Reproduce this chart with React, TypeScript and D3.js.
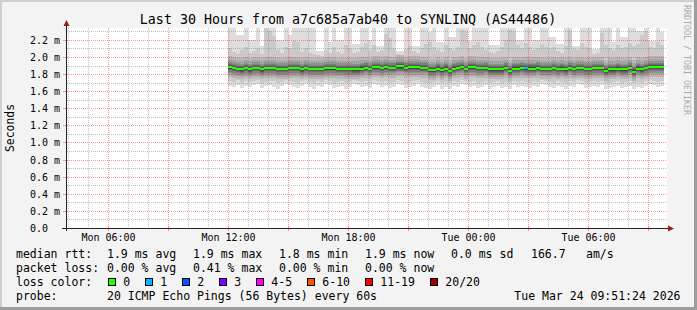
import React from "react";
import * as d3 from "d3";

// ---------------- data (values in ms) ----------------
const medianRtt = [
  1.88, 1.87, 1.86, 1.855, 1.87, 1.855, 1.87, 1.87, 1.855, 1.87,
  1.87, 1.87, 1.857, 1.857, 1.857, 1.87, 1.87, 1.87, 1.855, 1.87,
  1.857, 1.857, 1.857, 1.857, 1.868, 1.868, 1.868, 1.86, 1.86, 1.857,
  1.857, 1.855, 1.855, 1.865, 1.875, 1.86, 1.88, 1.88, 1.87, 1.88,
  1.875, 1.875, 1.89, 1.89, 1.875, 1.88, 1.88, 1.88, 1.875, 1.875,
  1.845, 1.845, 1.865, 1.845, 1.865, 1.835, 1.865, 1.875, 1.885, 1.86,
  1.88, 1.88, 1.87, 1.87, 1.875, 1.855, 1.855, 1.855, 1.855, 1.875,
  1.84, 1.865, 1.865, 1.875, 1.867, 1.865, 1.865, 1.875, 1.86, 1.86,
  1.86, 1.87, 1.858, 1.865, 1.855, 1.875, 1.857, 1.87, 1.87, 1.857,
  1.857, 1.87, 1.87, 1.87, 1.84, 1.855, 1.855, 1.865, 1.855, 1.855,
  1.875, 1.83, 1.865, 1.855, 1.87, 1.885, 1.885, 1.885, 1.885,
];

const pingMax = [
  2.42, 2.45, 2.26, 2.26, 2.44, 2.2, 2.2, 2.41, 2.13, 2.46,
  2.43, 2.42, 2.2, 2.2, 2.45, 2.26, 2.42, 2.44, 2.41, 2.43,
  2.42, 2.45, 2.07, 2.07, 2.42, 2.17, 2.44, 2.2, 2.2, 2.43,
  2.41, 2.15, 2.15, 2.44, 2.42, 2.2, 2.45, 2.13, 2.13, 2.43,
  2.42, 2.41, 2.07, 2.07, 2.44, 2.42, 2.13, 2.13, 2.45, 2.43,
  2.29, 2.42, 2.17, 2.17, 2.44, 2.23, 2.23, 2.41, 2.46, 2.43,
  2.19, 2.42, 2.45, 2.43, 2.41, 2.14, 2.14, 2.14, 2.44, 2.42,
  2.45, 2.43, 2.2, 2.2, 2.42, 2.44, 2.2, 2.2, 2.43, 2.41,
  2.23, 2.23, 2.15, 2.15, 2.42, 2.45, 2.13, 2.13, 2.44, 2.42,
  2.41, 2.09, 2.09, 2.45, 2.43, 2.42, 2.17, 2.44, 2.23, 2.23,
  2.42, 2.45, 2.3, 2.3, 2.43, 2.19, 2.19, 2.44, 2.29,
];

const ping19 = [
  2.1, 2.06, 2.04, 2.08, 2.12, 2.05, 2.07, 2.1, 2.04, 2.34,
  2.3, 2.24, 2.08, 2.05, 2.12, 2.1, 2.19, 2.18, 2.06, 2.1,
  2.05, 2.03, 2.02, 2.01, 2.08, 2.05, 2.12, 2.06, 2.04, 2.14,
  2.1, 2.05, 2.06, 2.12, 2.16, 2.08, 2.14, 2.06, 2.08, 2.27,
  2.22, 2.1, 2.03, 2.02, 2.09, 2.13, 2.07, 2.05, 2.11, 2.15,
  2.18, 2.12, 2.08, 2.06, 2.14, 2.1, 2.08, 2.12, 2.32, 2.3,
  2.1, 2.14, 2.18, 2.12, 2.08, 2.06, 2.05, 2.07, 2.12, 2.2,
  2.32, 2.3, 2.14, 2.1, 2.16, 2.12, 2.08, 2.1, 2.15, 2.12,
  2.09, 2.12, 2.07, 2.05, 2.13, 2.31, 2.09, 2.08, 2.16, 2.12,
  2.1, 2.04, 2.05, 2.28, 2.14, 2.1, 2.08, 2.14, 2.1, 2.12,
  2.16, 2.13, 2.15, 2.26, 2.3, 2.12, 2.1, 2.18, 2.14,
];

const ping2 = [
  1.72, 1.71, 1.73, 1.7, 1.72, 1.71, 1.72, 1.73, 1.7, 1.71,
  1.72, 1.72, 1.7, 1.71, 1.73, 1.72, 1.71, 1.7, 1.72, 1.73,
  1.71, 1.7, 1.72, 1.71, 1.73, 1.72, 1.7, 1.71, 1.72, 1.7,
  1.71, 1.73, 1.72, 1.71, 1.72, 1.7, 1.73, 1.72, 1.71, 1.72,
  1.7, 1.71, 1.73, 1.72, 1.7, 1.71, 1.72, 1.73, 1.71, 1.7,
  1.69, 1.71, 1.72, 1.7, 1.71, 1.69, 1.72, 1.71, 1.73, 1.72,
  1.71, 1.72, 1.7, 1.71, 1.72, 1.7, 1.71, 1.72, 1.7, 1.71,
  1.69, 1.72, 1.71, 1.72, 1.71, 1.7, 1.72, 1.71, 1.73, 1.72,
  1.71, 1.7, 1.72, 1.71, 1.7, 1.72, 1.71, 1.73, 1.72, 1.7,
  1.71, 1.72, 1.71, 1.72, 1.69, 1.7, 1.71, 1.72, 1.7, 1.71,
  1.72, 1.69, 1.71, 1.7, 1.72, 1.73, 1.72, 1.71, 1.72,
];

const pingMin = [
  1.66, 1.65, 1.67, 1.64, 1.66, 1.65, 1.67, 1.68, 1.64, 1.66,
  1.67, 1.65, 1.63, 1.66, 1.68, 1.67, 1.65, 1.64, 1.66, 1.68,
  1.65, 1.63, 1.66, 1.65, 1.68, 1.67, 1.64, 1.65, 1.66, 1.63,
  1.65, 1.68, 1.67, 1.65, 1.66, 1.64, 1.68, 1.67, 1.65, 1.66,
  1.64, 1.65, 1.68, 1.67, 1.64, 1.65, 1.66, 1.68, 1.65, 1.64,
  1.62, 1.65, 1.67, 1.63, 1.65, 1.62, 1.66, 1.65, 1.68, 1.67,
  1.65, 1.66, 1.64, 1.65, 1.67, 1.63, 1.65, 1.66, 1.64, 1.65,
  1.62, 1.67, 1.65, 1.66, 1.65, 1.64, 1.66, 1.65, 1.68, 1.67,
  1.65, 1.64, 1.66, 1.65, 1.63, 1.66, 1.65, 1.68, 1.67, 1.64,
  1.65, 1.66, 1.65, 1.67, 1.62, 1.64, 1.65, 1.66, 1.64, 1.65,
  1.66, 1.62, 1.65, 1.64, 1.66, 1.68, 1.67, 1.65, 1.66,
];

const lostPings = [
  0, 0, 0, 0, 0, 0, 0, 0, 0, 0,
  0, 0, 0, 0, 0, 0, 0, 0, 0, 0,
  0, 0, 0, 0, 0, 0, 0, 0, 0, 0,
  0, 0, 0, 0, 0, 0, 0, 0, 0, 0,
  0, 0, 0, 0, 0, 0, 0, 0, 0, 0,
  0, 0, 0, 0, 0, 0, 0, 0, 0, 0,
  0, 0, 0, 0, 0, 0, 0, 0, 0, 0,
  0, 0, 0, 0, 1, 0, 0, 0, 0, 0,
  0, 0, 0, 0, 0, 0, 0, 0, 0, 0,
  0, 0, 0, 0, 0, 0, 0, 0, 0, 0,
  0, 0, 0, 0, 0, 0, 0, 0, 0,
];

// typical spread of pings 3..18 around the median (ms)
const innerOffsets = [
  -0.115, -0.088, -0.068, -0.052, -0.037, -0.025, -0.015, -0.006,
  0.006, 0.014, 0.024, 0.036, 0.05, 0.068, 0.095, 0.13,
];

const smokeColors = [
  "#dddddd", "#cacaca", "#b7b7b7", "#a4a4a4", "#919191",
  "#7e7e7e", "#6b6b6b", "#585858", "#454545", "#323232",
];

const lossLabels = ["0", "1", "2", "3", "4-5", "6-10", "11-19", "20/20"];
const lossColors = ["#26ff00", "#00b8ff", "#0059ff", "#7e00ff", "#ff00ff", "#ff5500", "#ff0000", "#a10000"];

const yMajorTicks = [0, 0.2, 0.4, 0.6, 0.8, 1.0, 1.2, 1.4, 1.6, 1.8, 2.0, 2.2];
const yMinorTicks = [0.1, 0.3, 0.5, 0.7, 0.9, 1.1, 1.3, 1.5, 1.7, 1.9, 2.1, 2.3];

const titleText = "Last 30 Hours from a7c685a7ab40 to SYNLINQ (AS44486)";
const rttLabel = "median rtt:";
const rttStats = ["1.9 ms avg", "1.9 ms max", "1.8 ms min", "1.9 ms now", "0.0 ms sd"];
const rttRate = ["166.7", "am/s"];
const lossLabel = "packet loss:";
const lossStats = ["0.00 % avg", "0.41 % max", "0.00 % min", "0.00 % now"];
const probeLabel = "probe:";
const probeText = "20 ICMP Echo Pings (56 Bytes) every 60s";
const stampText = "Tue Mar 24 09:51:24 2026";

function lossIndex(n: number) {
  if (n <= 3) return n;
  if (n <= 5) return 4;
  if (n <= 10) return 5;
  if (n < 20) return 6;
  return 7;
}

export default function App() {
  const W = 697, H = 310;
  const L = 67, R = 667, T = 28, B = 228;
  const t0 = new Date(2026, 2, 23, 3, 57);
  const t1 = new Date(2026, 2, 24, 9, 57);
  const dataStart = new Date(2026, 2, 23, 12, 0);
  const step = 12 * 60 * 1000;

  const x = d3.scaleTime().domain([t0, t1]).range([L, R]);
  const y = d3.scaleLinear().domain([0, 2.339]).range([B, T]);

  const cols = medianRtt.map((m, i) => {
    const ta = new Date(dataStart.getTime() + i * step);
    const tb = new Date(ta.getTime() + step);
    const pings = [pingMin[i], ping2[i], ...innerOffsets.map((o) => m + o), ping19[i], pingMax[i]];
    return { x0: Math.round(x(ta)), x1: Math.round(x(tb)), pings, m, loss: lostPings[i] };
  });

  const hours = d3.timeHour.range(d3.timeHour.ceil(t0), t1);
  const fmt = d3.timeFormat("%a %H:%M");
  const font = "'DejaVu Sans Mono', monospace";
  const legendFS = 11.5;
  const statX = [107, 193, 279, 365, 451];
  const rateX = [531, 586];

  const minorStroke = "rgba(120,120,120,0.45)";
  const majorStroke = "rgba(255,0,0,0.4)";

  // loss legend layout
  const charW = 7;
  let bx = 108.3;
  const boxes = lossLabels.map((lab, k) => {
    const b = { x: bx, lab, col: lossColors[k] };
    bx += 15 + lab.length * charW + 15;
    return b;
  });

  return (
    <svg
      width={W}
      height={H}
      style={{ position: "absolute", left: 0, top: 0, display: "block" }}
      fontFamily={font}
    >
      <rect x={0} y={0} width={W} height={H} fill="#f3f3f3" />
      <rect x={0} y={0} width={W} height={2} fill="#cfcfcf" />
      <rect x={0} y={0} width={2} height={H} fill="#cfcfcf" />
      <rect x={0} y={H - 3} width={W} height={3} fill="#9e9e9e" />
      <rect x={W - 3} y={0} width={3} height={H} fill="#9e9e9e" />

      <rect x={L} y={T} width={R - L} height={B - T} fill="#ffffff" />
      <defs>
        <clipPath id="plotclip">
          <rect x={L} y={T} width={R - L} height={B - T} />
        </clipPath>
      </defs>

      <g clipPath="url(#plotclip)" shapeRendering="crispEdges">
        {cols.map((c, i) =>
          smokeColors.map((col, k) => {
            const top = Math.round(y(c.pings[19 - k]));
            const bot = Math.round(y(c.pings[k]));
            return (
              <rect
                key={`s${i}-${k}`}
                x={c.x0}
                y={top}
                width={c.x1 - c.x0}
                height={Math.max(0, bot - top)}
                fill={col}
              />
            );
          })
        )}
      </g>

      {/* grid */}
      <g shapeRendering="crispEdges">
        {yMinorTicks.map((v) => {
          const py = Math.round(y(v)) + 0.5;
          return <line key={`ym${v}`} x1={L} x2={R} y1={py} y2={py} stroke={minorStroke} strokeDasharray="1,1" />;
        })}
        {hours.filter((h) => h.getHours() % 3 !== 0).map((h) => {
          const px = Math.round(x(h)) + 0.5;
          return <line key={`xm${+h}`} x1={px} x2={px} y1={T} y2={B} stroke={minorStroke} strokeDasharray="1,1" />;
        })}
        {yMajorTicks.filter((v) => v > 0).map((v) => {
          const py = Math.round(y(v)) + 0.5;
          return (
            <g key={`yM${v}`}>
              <line x1={L} x2={R} y1={py} y2={py} stroke={majorStroke} strokeDasharray="1,1" />
              <line x1={63} x2={L} y1={py} y2={py} stroke={majorStroke} />
            </g>
          );
        })}
        {hours.filter((h) => h.getHours() % 3 === 0).map((h) => {
          const px = Math.round(x(h)) + 0.5;
          return (
            <g key={`xM${+h}`}>
              <line x1={px} x2={px} y1={T} y2={B} stroke={majorStroke} strokeDasharray="1,1" />
              <line x1={px} x2={px} y1={B - 2} y2={B + 3} stroke={majorStroke} />
            </g>
          );
        })}
      </g>

      {/* median line coloured by loss */}
      <g clipPath="url(#plotclip)" shapeRendering="crispEdges">
        {cols.map((c, i) => (
          <rect
            key={`m${i}`}
            x={c.x0}
            y={Math.round(y(c.m)) - 1}
            width={c.x1 - c.x0}
            height={2}
            fill={lossColors[lossIndex(c.loss)]}
          />
        ))}
      </g>

      {/* axes */}
      <g shapeRendering="crispEdges">
        <line x1={62} x2={669} y1={B + 0.5} y2={B + 0.5} stroke="#222" />
        <line x1={66.5} x2={66.5} y1={B + 3} y2={24} stroke="#222" />
      </g>
      <polygon points={`668,225.5 674,228.5 668,231.5`} fill="#9a1c1c" />
      <polygon points={`63.5,26 66.5,20 69.5,26`} fill="#9a1c1c" />

      {/* y labels */}
      {yMajorTicks.map((v) => (
        <text key={`yl${v}`} x={30} y={Math.round(y(v)) + 4} fontSize={10} fill="#000">
          {v === 0 ? "0.0" : `${d3.format(".1f")(v)} m`}
        </text>
      ))}
      {/* x labels */}
      {hours.filter((h) => h.getHours() % 6 === 0).map((h) => (
        <text key={`xl${+h}`} x={Math.round(x(h)) + 0.5} y={241} fontSize={10} textAnchor="middle" fill="#000">
          {fmt(h)}
        </text>
      ))}

      {/* title & unit */}
      <text x={348} y={24} fontSize={13.3} textAnchor="middle" fill="#000">
        {titleText}
      </text>
      <text transform="translate(14,128) rotate(-90)" fontSize={11.4} textAnchor="middle" fill="#000">
        Seconds
      </text>
      <text transform="translate(684,5) rotate(90)" fontSize={8.3} fill="#aaaaaa">
        RRDTOOL / TOBI OETIKER
      </text>

      {/* legend */}
      <g fontSize={legendFS} fill="#000">
        <text x={16} y={258}>{rttLabel}</text>
        {rttStats.map((s, k) => (
          <text key={`r${k}`} x={statX[k]} y={258}>{s}</text>
        ))}
        {rttRate.map((s, k) => (
          <text key={`rr${k}`} x={rateX[k]} y={258}>{s}</text>
        ))}
        <text x={16} y={272}>{lossLabel}</text>
        {lossStats.map((s, k) => (
          <text key={`l${k}`} x={statX[k]} y={272}>{s}</text>
        ))}
        <text x={16} y={286}>loss color:</text>
        {boxes.map((b, k) => (
          <g key={`b${k}`}>
            <rect x={Math.round(b.x) + 0.5} y={278.5} width={7} height={7} fill={b.col} stroke="#000" shapeRendering="crispEdges" />
            <text x={b.x + 15} y={286}>{b.lab}</text>
          </g>
        ))}
        <text x={16} y={300}>{probeLabel}</text>
        <text x={107} y={300}>{probeText}</text>
        <text x={680.5} y={300} textAnchor="end">{stampText}</text>
      </g>
    </svg>
  );
}
